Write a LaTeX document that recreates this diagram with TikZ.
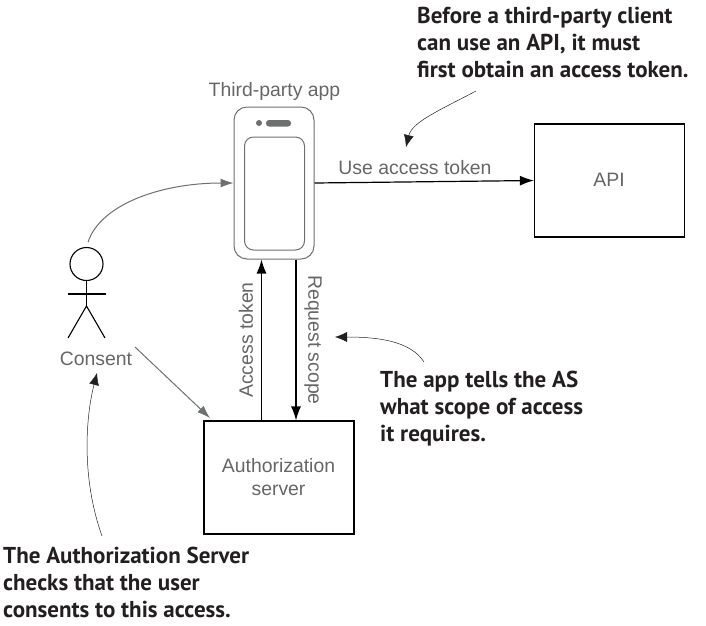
\documentclass[tikz,border=0pt]{standalone}
\usepackage{fontspec}
\setmainfont{Liberation Sans}
\newfontfamily\calloutfont{PT Sans}
\usetikzlibrary{arrows.meta}
\definecolor{labelgray}{HTML}{666666}
\definecolor{linegray}{HTML}{6D7070}
\definecolor{inkblack}{HTML}{231F20}
\tikzset{
    boxnode/.style={draw, line width=1.2pt, minimum width=150pt, minimum height=113pt, inner sep=0pt},
    label/.style={text=labelgray, font=\fontsize{19.4}{21}\selectfont, inner sep=0pt, align=center},
    callout/.style={text=inkblack, font=\calloutfont\bfseries\fontsize{23}{27}\selectfont, inner sep=0pt, align=left, anchor=north west},
    flow/.style={line width=1.2pt, -{Latex[length=14pt,width=10pt]}},
    grayflow/.style={line width=1pt, linegray, -{Latex[length=13pt,width=9pt]}},
    note/.style={line width=0.5pt, inkblack, -{Latex[length=12pt,width=10pt]}},
}
\begin{document}
\begin{tikzpicture}[x=1pt,y=-1pt]
        \useasboundingbox (0,0) rectangle (706,625);

        % phone
        \node[draw=linegray, line width=1pt, rounded corners=13pt, minimum width=80pt, minimum height=152pt, inner sep=0pt] at (274,183) (app) {};
        \node[draw=linegray, line width=1pt, rounded corners=9pt, minimum width=60pt, minimum height=113pt, inner sep=0pt] at (274.5,193.5) (screen) {};
        \fill[linegray] (259,123) circle (3pt);
        \fill[linegray, rounded corners=3pt] (266,120) rectangle (291,126.5);
        \node[label] at (274.5,91) (applabel) {Third-party app};

        \node[boxnode] at (609.5,180.5) (api) {};
        \node[label] at (609,180) (apilabel) {API};
        \node[boxnode] at (279,477.5) (as) {};
        \node[label] at (278.5,477) (aslabel) {Authorization\\[2pt]server};

        % user
        \node[draw, circle, line width=1.1pt, minimum size=33pt, inner sep=0pt] at (86.5,264) (head) {};
        \coordinate (hip) at (86.5,306);
        \coordinate (lfoot) at (68,338);
        \coordinate (rfoot) at (105,338);
        \coordinate (larm) at (68,294);
        \coordinate (rarm) at (105.5,294);
        \draw[line width=1.1pt] (head.south) -- (hip);
        \draw[line width=1.1pt] (larm) -- (rarm);
        \draw[line width=1.1pt] (lfoot) -- (hip) -- (rfoot);
        \node[label] at (96,359) (consent) {Consent};

        % connectors
        \draw[grayflow, shorten <=5pt] (head.north) .. controls (100,205) and (160,183) .. (app.west);
        \coordinate (consentout) at (135,347);
        \coordinate (asin) at (210,418);
        \draw[grayflow] (consentout) -- (asin);
        \draw[flow] (app.east) -- (api.west);
        \node[label] at (415,168) (uselabel) {Use access token};
        \coordinate (tokenx) at (261.5,340);
        \coordinate (scopex) at (296,340);
        \draw[flow] (tokenx |- as.north) -- (tokenx |- app.south);
        \draw[flow] (scopex |- app.south) -- (scopex |- as.north);
        \node[label, rotate=90] at (246,340) (tokenlabel) {Access token};
        \node[label, rotate=-90] at (313,340) (scopelabel) {Request scope};

        % callouts
        \node[callout] at (417,7) (note1) {Before a third-party client\\can use an API, it must\\first obtain an access token.};
        \node[callout] at (380,371) (note2) {The app tells the AS\\what scope of access\\it requires.};
        \node[callout] at (3,547) (note3) {The Authorization Server\\checks that the user\\consents to this access.};
        \coordinate (n1s) at (476,91);
        \coordinate (n1e) at (406,147);
        \coordinate (n2s) at (424,362);
        \coordinate (n2e) at (335,337);
        \coordinate (n3s) at (102,536);
        \coordinate (n3e) at (97,373);
        \draw[note] (n1s) .. controls (440,110) and (412,122) .. (n1e);
        \draw[note] (n2s) .. controls (410,340) and (375,337) .. (n2e);
        \draw[note] (n3s) .. controls (82,480) and (85,420) .. (n3e);
\end{tikzpicture}
\end{document}
